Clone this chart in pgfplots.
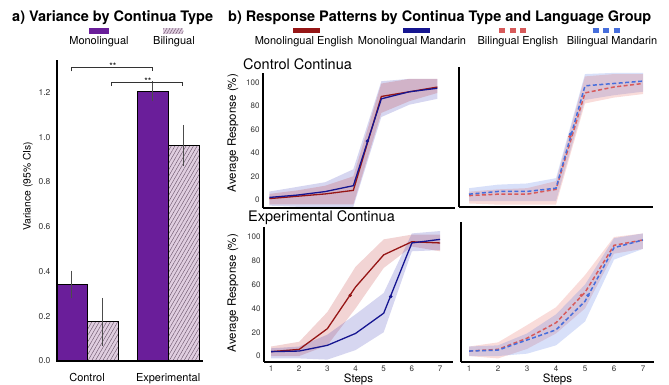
\documentclass[border=0pt]{standalone}
\usepackage{fontspec}
\setmainfont{TeX Gyre Heros}
\usepackage{pgfplots}
\pgfplotsset{compat=1.18}
\usetikzlibrary{patterns.meta}
\definecolor{mono}{RGB}{106,30,154}
\definecolor{bilfill}{RGB}{224,206,224}
\definecolor{hatch}{RGB}{110,88,110}
\definecolor{ME}{RGB}{150,22,22}
\definecolor{MM}{RGB}{22,22,145}
\definecolor{BE}{RGB}{215,90,90}
\definecolor{BM}{RGB}{70,110,220}
\definecolor{bandR}{RGB}{190,40,40}
\definecolor{bandB}{RGB}{50,50,180}
\definecolor{bandBE}{RGB}{225,80,70}
\definecolor{bandBM}{RGB}{60,100,225}
\pgfplotsset{
 pb/.style={anchor=south west, scale only axis, axis x line=bottom, axis y line=left,
   axis line style={-, line width=1.5pt, black}, major tick length=0pt, axis on top=true,
   xtick={1,2,3,4,5,6,7}, ytick={0,20,40,60,80,100},
   tick label style={font=\fontsize{8}{9}\selectfont, text=black!80},
   /pgf/number format/assume math mode=true,
   label style={font=\fontsize{11.5}{13}\selectfont}},
 band/.style={draw=none, fill=#1, fill opacity=0.2, forget plot},
 sline/.style={line width=1.3pt, color=#1, mark=none},
 dline/.style={line width=1.5pt, color=#1, mark=none, dash pattern=on 4pt off 2.5pt},
 mk/.style={only marks, mark=*, mark size=1.5pt, color=#1},
}
\begin{document}
\begin{tikzpicture}
\useasboundingbox (0pt,0pt) rectangle (669pt,385pt);
% titles
\node[anchor=base west, inner sep=0, font=\fontsize{14.5}{16}\selectfont\bfseries] at (12pt,363.3pt) {a) Variance by Continua Type};
\node[anchor=base west, inner sep=0, font=\fontsize{14.5}{16}\selectfont\bfseries] at (228pt,363.3pt) {b) Response Patterns by Continua Type and Language Group};
% legend a
\fill[mono] (89.3pt,351pt) rectangle (109.3pt,356.7pt);
\fill[bilfill] (163.3pt,351pt) rectangle (183.3pt,356.7pt);
\fill[pattern={Lines[angle=60,distance=2.6pt,line width=0.45pt]}, pattern color=hatch] (163.3pt,351pt) rectangle (183.3pt,356.7pt);
\node[anchor=base, inner sep=0, font=\fontsize{11}{12}\selectfont] at (99pt,340pt) {Monolingual};
\node[anchor=base, inner sep=0, font=\fontsize{11}{12}\selectfont] at (174pt,340pt) {Bilingual};
% legend b
\fill[ME] (293pt,351.5pt) rectangle (320pt,356.5pt);
\fill[MM] (403pt,351.5pt) rectangle (430pt,356.5pt);
\draw[BE, line width=5pt, dash pattern=on 6pt off 4.5pt] (499.3pt,354pt) -- (527pt,354pt);
\draw[BM, line width=5pt, dash pattern=on 6pt off 4.5pt] (592.7pt,354pt) -- (620pt,354pt);
\node[anchor=base, inner sep=0, font=\fontsize{11}{12}\selectfont] at (304pt,340pt) {Monolingual English};
\node[anchor=base, inner sep=0, font=\fontsize{11}{12}\selectfont] at (412pt,340pt) {Monolingual Mandarin};
\node[anchor=base, inner sep=0, font=\fontsize{11}{12}\selectfont] at (518pt,340pt) {Bilingual English};
\node[anchor=base, inner sep=0, font=\fontsize{11}{12}\selectfont] at (612pt,340pt) {Bilingual Mandarin};
\node[anchor=base west, inner sep=0, font=\fontsize{14.5}{16}\selectfont] at (243pt,315pt) {Control Continua};
\node[anchor=base west, inner sep=0, font=\fontsize{14.5}{16}\selectfont] at (248pt,163pt) {Experimental Continua};

% ---------------- panel a
\begin{axis}[
 at={(57pt,24pt)}, anchor=south west, scale only axis, width=146pt, height=301pt,
 xmin=-0.37, xmax=1.43, ymin=0, ymax=1.345, clip=false, axis on top=true,
 axis x line=bottom, axis y line=left, axis line style={-, line width=1.7pt, black},
 major tick length=0pt,
 /pgf/number format/assume math mode=true,
 xtick={0,1}, xticklabels={Control,Experimental},
 ytick={0,0.2,0.4,0.6,0.8,1.0,1.2},
 yticklabel style={/pgf/number format/fixed, /pgf/number format/fixed zerofill, /pgf/number format/precision=1, font=\fontsize{8.5}{10}\selectfont, text=black!80, xshift=-3pt},
 xticklabel style={font=\fontsize{11}{12}\selectfont, yshift=-9pt},
 ylabel={Variance (95\% CIs)},
 ylabel style={at={(axis description cs:-0.2,0.58)}, anchor=center, font=\fontsize{10.3}{12}\selectfont},
 ybar=0pt, bar width=31pt,
]
\addplot+[ybar, fill=mono, draw=black, line width=0.7pt,
  error bars/.cd, y dir=both, y explicit,
  error bar style={black!70, line width=0.5pt}, error mark options={black!70, mark size=2pt, line width=0.5pt}]
  coordinates {(0,0.342) +- (0,0.053) (1,1.205) +- (0,0.035)};
\addplot+[ybar, fill=bilfill, draw=black, line width=0.7pt,
  postaction={pattern={Lines[angle=60,distance=3.2pt,line width=0.45pt]}, pattern color=hatch},
  error bars/.cd, y dir=both, y explicit,
  error bar style={black!70, line width=0.5pt}, error mark options={black!70, mark size=2pt, line width=0.5pt}]
  coordinates {(0,0.175) +- (0,0.098) (1,0.963) +- (0,0.083)};
\draw[black!80, line width=0.6pt] (axis cs:-0.19,1.294) |- (axis cs:0.81,1.312) -- (axis cs:0.81,1.294);
\draw[black!80, line width=0.6pt] (axis cs:0.30,1.228) |- (axis cs:1.17,1.245) -- (axis cs:1.17,1.228);
\node[anchor=base, inner sep=0, font=\fontsize{9}{10}\selectfont] at (axis cs:0.32,1.304) {**};
\node[anchor=base, inner sep=0, font=\fontsize{9}{10}\selectfont] at (axis cs:0.75,1.237) {**};
\end{axis}

% ---------------- panel b: top-left (control, monolingual)
\begin{axis}[pb, at={(263pt,177pt)}, width=192pt, height=135pt,
 xmin=0.775, xmax=7.63, ymin=-7, ymax=108, xticklabels={},
 ylabel={Average Response (\%)},
 ylabel style={at={(axis description cs:-0.156,0.555)}, anchor=center}]
\addplot[band=bandB] coordinates {(1,7)(2,11)(3,15)(4,26)(5,101)(6,103)(7,103)(7,86)(6,81)(5,70.5)(4,-6)(3,-6)(2,-6)(1,-5)};
\addplot[band=bandR] coordinates {(1,5)(2,8)(3,12)(4,20)(5,99)(6,103)(7,103)(7,91)(6,84)(5,74)(4,-4)(3,-4)(2,-4)(1,-4)};
\addplot[sline=ME] coordinates {(1,1)(2,3)(3,5)(4,8)(5,88)(6,92)(7,96)};
\addplot[sline=MM] coordinates {(1,2)(2,4)(3,7)(4,12)(5,86)(6,92)(7,95)};
\addplot[mk=MM] coordinates {(4.5,50)};
\end{axis}

% ---------------- top-right (control, bilingual)
\begin{axis}[pb, at={(459pt,178pt)}, width=194pt, height=140pt,
 xmin=0.655, xmax=7.345, ymin=-6, ymax=113, xticklabels={}, yticklabels={}]
\addplot[band=bandBM] coordinates {(1,10)(2,13)(3,14)(4,18.5)(5,107)(6,108)(7,108)(7,92)(6,89)(5,85)(4,-1)(3,-1)(2,-1)(1,-1)};
\addplot[band=bandBE] coordinates {(1,7)(2,9)(3,10)(4,16)(5,105)(6,107)(7,107)(7,90)(6,87)(5,82)(4,-4)(3,-4)(2,-4)(1,-3)};
\addplot[dline=BE] coordinates {(1,3.7)(2,4.9)(3,4.9)(4,9)(5,91)(6,96)(7,99)};
\addplot[dline=BM] coordinates {(1,4.9)(2,7.2)(3,7.2)(4,10)(5,97)(6,99)(7,101)};
\addplot[mk=BE] coordinates {(4.48,54)};
\addplot[mk=BM] coordinates {(4.5,56)};
\end{axis}

% ---------------- bottom-left (experimental, monolingual)
\begin{axis}[pb, at={(264pt,23pt)}, width=189pt, height=135pt,
 xmin=0.75, xmax=7.46, ymin=-5, ymax=108.4,
 xlabel={Steps}, xlabel style={at={(axis description cs:0.5,0)}, anchor=center, yshift=-17pt},
 ylabel={Average Response (\%)},
 ylabel style={at={(axis description cs:-0.164,0.51)}, anchor=center}]
\addplot[band=bandR] coordinates {(1,8)(2,12)(3,37)(4,75)(5,98)(6,102)(7,102)(7,88)(6,92)(5,74)(4,40)(3,9)(2,0)(1,0)};
\addplot[band=bandB] coordinates {(1,6.5)(2,8)(3,18)(4,35)(5,53)(6,103)(7,105)(7,89)(6,88)(5,20)(4,5)(3,-3)(2,-2)(1,-2)};
\addplot[sline=ME] coordinates {(1,3.7)(2,5.6)(3,23)(4,58)(5,85)(6,96)(7,95)};
\addplot[sline=MM] coordinates {(1,3.7)(2,4.2)(3,9)(4,19)(5,36)(6,95)(7,98)};
\addplot[mk=ME] coordinates {(3.81,51)};
\addplot[mk=MM] coordinates {(5.25,50)};
\end{axis}

% ---------------- bottom-right (experimental, bilingual)
\begin{axis}[pb, at={(461pt,23pt)}, width=193pt, height=140pt,
 xmin=0.72, xmax=7.38, ymin=-5, ymax=112.6, yticklabels={},
 xlabel={Steps}, xlabel style={at={(axis description cs:0.5,0)}, anchor=center, yshift=-17pt}]
\addplot[band=bandBE] coordinates {(1,8)(2,11.5)(3,26)(4,41)(5,68)(6,100)(7,103)(7,90)(6,86)(5,40)(4,19)(3,6)(2,-2)(1,0)};
\addplot[band=bandBM] coordinates {(1,8)(2,9)(3,19)(4,35)(5,60)(6,99)(7,103)(7,90)(6,81)(5,29)(4,9)(3,2)(2,0)(1,0)};
\addplot[dline=BE] coordinates {(1,4.2)(2,5.6)(3,15)(4,28)(5,53.5)(6,93)(7,97.5)};
\addplot[dline=BM] coordinates {(1,4.2)(2,5)(3,13.5)(4,22)(5,46)(6,91)(7,97.5)};
\addplot[mk=BE] coordinates {(4.87,51)};
\addplot[mk=BM] coordinates {(5.1,51)};
\end{axis}
\end{tikzpicture}
\end{document}
